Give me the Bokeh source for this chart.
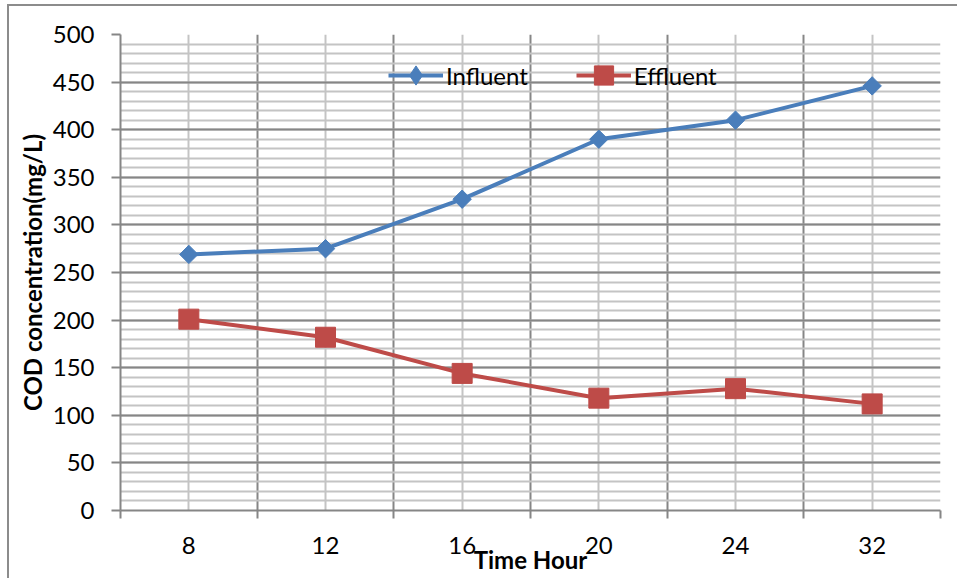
from bokeh.plotting import figure
from bokeh.models import FixedTicker, SingleIntervalTicker, Legend, LegendItem, Range1d
from bokeh.embed import file_html
from bokeh.resources import INLINE
import math

categories = ["8", "12", "16", "20", "24", "32"]
influent = [269, 275, 327, 390, 410, 446]
effluent = [201, 182, 144, 118, 128, 112]

FONT = "Lato"
FS = "24px"
DARK = "#868686"
LIGHT = "#c4c4c4"
BLUE = "#4a7ebb"
RED = "#be4b48"

xs = list(range(len(categories)))

p = figure(frame_width=820, frame_height=476, output_backend="svg", toolbar_location=None,
           x_range=Range1d(-0.5, len(categories) - 0.5), y_range=Range1d(0, 500),
           min_border_left=111, min_border_right=17, min_border_top=28, min_border_bottom=68)
p.styles = {"border-top": "2px solid #8c8c8c", "border-left": "2px solid #8c8c8c",
            "margin-top": "4px", "margin-left": "7px"}
p.outline_line_color = None
p.background_fill_color = "white"
p.border_fill_color = "white"

# x axis: labels at category centers, ticks/dark grid at boundaries
xt = FixedTicker(ticks=xs, minor_ticks=[i - 0.5 for i in range(len(categories) + 1)])
p.xaxis.ticker = xt
p.xaxis.major_label_overrides = {i: c for i, c in enumerate(categories)}
p.xaxis.major_tick_out = 0
p.xaxis.major_tick_in = 0
p.xaxis.minor_tick_out = 8
p.xaxis.minor_tick_in = 0
p.xaxis.minor_tick_line_color = DARK
p.xaxis.minor_tick_line_width = 2
p.xaxis.axis_line_color = DARK
p.xaxis.axis_line_width = 2
p.xaxis.major_label_standoff = 18
p.xaxis.major_label_text_font = FONT
p.xaxis.major_label_text_font_size = FS
p.xaxis.major_label_text_color = "black"
p.xaxis.axis_label = "Time Hour"
p.xaxis.axis_label_text_font = FONT
p.xaxis.axis_label_text_font_style = "bold"
p.xaxis.axis_label_text_font_size = FS
p.xaxis.axis_label_text_color = "black"
p.xaxis.axis_label_standoff = -12

p.xgrid.ticker = xt
p.xgrid.grid_line_color = LIGHT
p.xgrid.grid_line_width = 2
p.xgrid.minor_grid_line_color = DARK
p.xgrid.minor_grid_line_width = 2

# y axis
yt = SingleIntervalTicker(interval=50, num_minor_ticks=5)
p.yaxis.ticker = yt
p.yaxis.major_tick_out = 9
p.yaxis.major_tick_in = 0
p.yaxis.minor_tick_out = 0
p.yaxis.minor_tick_in = 0
p.yaxis.major_tick_line_color = DARK
p.yaxis.major_tick_line_width = 2
p.yaxis.axis_line_color = DARK
p.yaxis.axis_line_width = 2
p.yaxis.major_label_standoff = 17
p.yaxis.major_label_text_font = FONT
p.yaxis.major_label_text_font_size = FS
p.yaxis.major_label_text_color = "black"
p.yaxis.axis_label = "COD concentration(mg/L)"
p.yaxis.axis_label_text_font = FONT
p.yaxis.axis_label_text_font_style = "bold"
p.yaxis.axis_label_text_font_size = FS
p.yaxis.axis_label_text_color = "black"
p.yaxis.axis_label_standoff = 3

p.ygrid.ticker = yt
p.ygrid.grid_line_color = DARK
p.ygrid.grid_line_width = 2
p.ygrid.minor_grid_line_color = LIGHT
p.ygrid.minor_grid_line_width = 2

l1 = p.line(xs, influent, line_color=BLUE, line_width=4)
m1 = p.scatter(xs, influent, marker="square", angle=math.pi / 4, size=13,
               fill_color=BLUE, line_color=BLUE)
l2 = p.line(xs, effluent, line_color=RED, line_width=4)
m2 = p.scatter(xs, effluent, marker="square", size=20, fill_color=RED, line_color=RED)

# legend-only diamond (legend markers are drawn unrotated); NaN point is never drawn in the plot
d1 = p.scatter(x=[float("nan")], y=[float("nan")], marker="diamond", size=19,
               fill_color=BLUE, line_color=BLUE)

legend = Legend(items=[LegendItem(label="Influent", renderers=[l1, d1]),
                       LegendItem(label="Effluent", renderers=[l2, m2])],
                orientation="horizontal", location=(268, 411),
                glyph_width=55, glyph_height=48, label_standoff=3, spacing=48,
                padding=0, margin=0, border_line_color=None, background_fill_alpha=0,
                label_text_font=FONT, label_text_font_size=FS, label_text_color="black")
p.add_layout(legend, "center")

open("out.html", "w").write(file_html(p, INLINE))
